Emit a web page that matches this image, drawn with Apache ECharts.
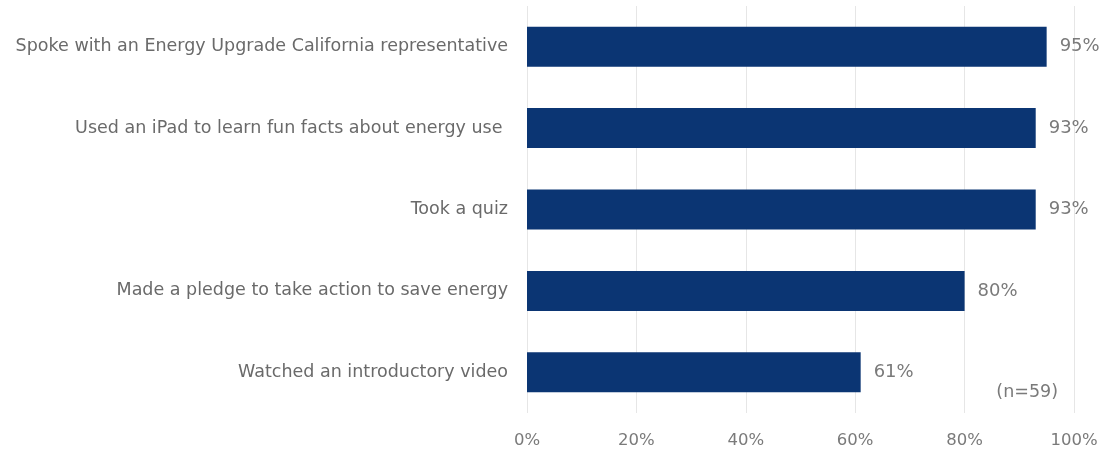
<!DOCTYPE html>
<html>
<head>
<meta charset="utf-8">
<script src="https://cdn.jsdelivr.net/npm/echarts@6/dist/echarts.min.js"></script>
<style>
html,body{margin:0;padding:0;background:#fff;}
#chart{width:1105px;height:453px;}
</style>
</head>
<body>
<div id="chart"></div>
<script>
const categories = [
  "Spoke with an Energy Upgrade California representative",
  "Used an iPad to learn fun facts about energy use ",
  "Took a quiz",
  "Made a pledge to take action to save energy",
  "Watched an introductory video"
];
const values = [95, 93, 93, 80, 61];
const xTicks = [0, 20, 40, 60, 80, 100];
const note = "(n=59)";

const chart = echarts.init(document.getElementById('chart'));
const wide = "'DejaVu Sans', Verdana, sans-serif";
chart.setOption({
  animation: false,
  grid: {left: 527, right: 31, top: 6, bottom: 40, containLabel: false},
  xAxis: {
    type: 'value', min: xTicks[0], max: xTicks[xTicks.length - 1], interval: xTicks[1] - xTicks[0],
    axisLine: {show: false}, axisTick: {show: false},
    splitLine: {show: true, lineStyle: {color: '#e6e6e6', width: 1}},
    axisLabel: {formatter: v => v + '%', color: '#7a7a7a', fontSize: 16.5, fontFamily: wide, margin: 19}
  },
  yAxis: {
    type: 'category', data: categories, inverse: true,
    axisLine: {show: false}, axisTick: {show: false},
    axisLabel: {color: '#6a6a6a', fontSize: 17.5, fontFamily: wide, margin: 19}
  },
  series: [{
    type: 'bar', data: values, barWidth: 40,
    itemStyle: {color: '#0b3573'},
    label: {show: true, position: 'right', distance: 13, formatter: p => p.value + '%', color: '#7a7a7a', fontSize: 18, fontFamily: wide}
  }],
  graphic: [{
    type: 'text', right: 47, top: 383,
    style: {text: note, fill: '#7a7a7a', fontSize: 17.5, fontFamily: wide}
  }]
});
</script>
</body>
</html>
